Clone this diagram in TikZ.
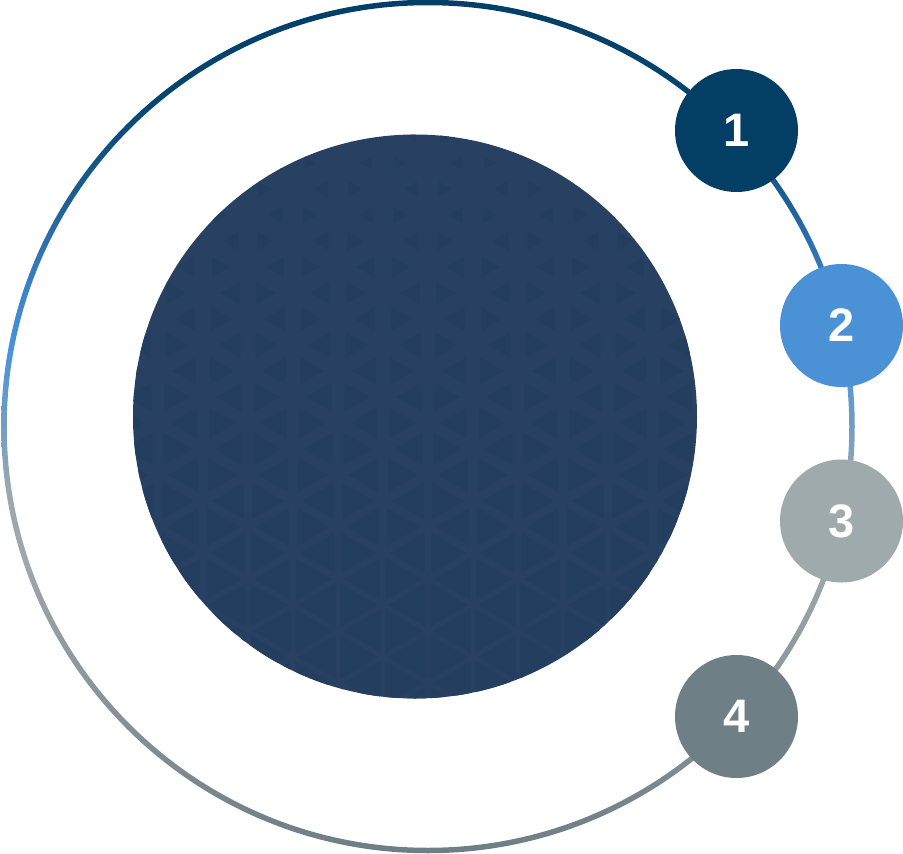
\documentclass[tikz,border=0pt]{standalone}
\usepackage{fontspec}
\setmainfont{Liberation Sans}
\definecolor{g0}{RGB}{1,63,103}
\definecolor{g1}{RGB}{6,69,110}
\definecolor{g2}{RGB}{30,95,148}
\definecolor{g3}{RGB}{60,130,200}
\definecolor{g4}{RGB}{74,147,219}
\definecolor{g5}{RGB}{111,156,196}
\definecolor{g6}{RGB}{154,168,176}
\definecolor{g7}{RGB}{158,167,171}
\definecolor{g8}{RGB}{135,148,154}
\definecolor{g9}{RGB}{110,126,134}
\definecolor{c1}{RGB}{3,63,100}
\definecolor{c2}{RGB}{74,145,213}
\definecolor{c3}{RGB}{159,170,173}
\definecolor{c4}{RGB}{111,127,134}
\definecolor{corec}{RGB}{40,65,98}
\definecolor{tric}{RGB}{36,62,96}
\pgfdeclareverticalshading{ringshade}{100bp}{color(0bp)=(g9); color(25bp)=(g9); color(34bp)=(g8); color(42bp)=(g7); color(46.3bp)=(g6); color(50.4bp)=(g5); color(54.5bp)=(g4); color(58bp)=(g3); color(63.3bp)=(g2); color(69bp)=(g1); color(75bp)=(g0); color(100bp)=(g0)}
\tikzset{
  numdot/.style={circle, minimum size=123pt, inner sep=0pt, text=white, font=\fontsize{47}{47}\selectfont\bfseries},
  corecircle/.style={circle, minimum size=564pt, inner sep=0pt, fill=corec},
  tri/.style={fill=tric}
}
\begin{document}
\begin{tikzpicture}[x=1pt,y=-1pt]
\useasboundingbox (0,0) rectangle (903,854);
\coordinate (rc) at (428,426.5);
\shade[shading=ringshade, even odd rule] (rc) circle[radius=426.75pt] (rc) circle[radius=421.25pt];
\node[corecircle] (core) at (415,416.5) {};
\begin{scope}
\clip (core.center) circle[radius=282pt];
\foreach \k in {-6,...,7}{
  \foreach \m in {-1,...,11}{
    \pgfmathsetmacro\X{383+45*\k}
    \pgfmathsetmacro\Y{163+26*mod(\k+6,2)+52*\m}
    \pgfmathsetmacro\f{min(0.82,max(0.08,0.25+(\Y-163)*0.0013))}
    \fill[tri] ({\X+15-15*\f},{\Y-26*\f}) -- ({\X+15-15*\f},{\Y+26*\f}) -- ({\X+15+30*\f},\Y) -- cycle;
    \fill[tri] ({\X-15+15*\f},{\Y-26*\f}) -- ({\X-15+15*\f},{\Y+26*\f}) -- ({\X-15-30*\f},\Y) -- cycle;
  }
}
\end{scope}
\node[numdot, fill=c1] (n1) at (736.5,130.5) {1};
\node[numdot, fill=c2] (n2) at (841.5,325.5) {2};
\node[numdot, fill=c3] (n3) at (841.5,521) {3};
\node[numdot, fill=c4] (n4) at (736.5,716.5) {4};
\end{tikzpicture}
\end{document}
